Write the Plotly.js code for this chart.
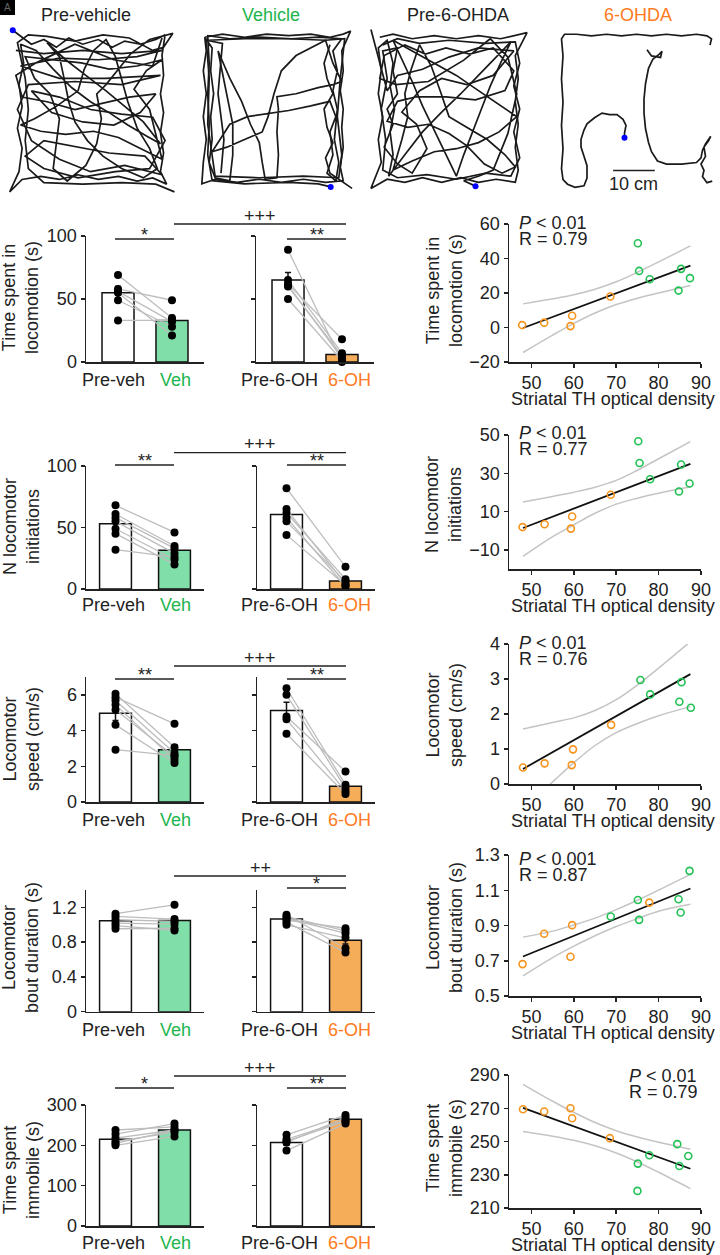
<!DOCTYPE html>
<html><head><meta charset="utf-8">
<script src="https://cdn.plot.ly/plotly-3.0.1.min.js"></script>
<style>html,body{margin:0;padding:0;background:#fff}</style>
</head><body><div id="chart" style="width:720px;height:1255px"></div>
<script>
// ---------------- DATA ----------------
// Trajectory paths (arena coordinates 0-100, y up); null = gap
const preVehiclePath = [[0,101],[5,97],[12,92],[20,95],[28,90],[36,96],[45,92],[55,95],[64,90],[72,94],[82,92],[92,95],[98,98],[96,85],[97,72],[95,60],[97,48],[95,35],[97,22],[95,10],[99,2],[90,6],[80,4],[68,7],[55,5],[42,8],[30,5],[18,7],[6,5],[-2,-3],[4,10],[6,25],[3,38],[6,52],[4,66],[7,80],[5,92],[15,88],[26,76],[38,64],[50,55],[62,48],[74,40],[86,33],[95,28],[84,42],[72,52],[60,62],[47,72],[34,82],[22,93],[30,84],[33,70],[36,55],[40,42],[48,30],[58,20],[70,12],[84,6],[93,12],[88,25],[80,38],[74,55],[70,70],[66,84],[60,95],[52,88],[46,76],[42,62],[28,52],[14,44],[5,40],[18,36],[34,34],[52,36],[68,32],[82,25],[96,18],[88,50],[78,63],[86,75],[96,82],[80,78],[62,76],[44,80],[26,82],[8,84],[14,70],[24,60],[30,44],[28,28],[26,12],[35,4],[47,14],[54,28],[57,44],[54,60],[60,66],[76,86],[88,95],[103,99],[97,90],[90,88],[75,96],[58,98],[40,94],[22,97],[10,98],[3,93],[8,70],[10,50],[8,30],[10,12],[20,3],[45,2],[70,3],[92,2],[104,-3],null,
  [2,88],[20,86],[45,88],[70,86],[96,88],[80,84],[55,82],[30,83],[5,78],[30,70],[60,70],[95,72],[70,66],[40,68],[10,66],[3,50],[12,30],[30,18],[50,10],[72,14],[96,8],[85,20],[62,22],[40,26],[20,30],[8,20],[20,12],[42,6],[66,10],[88,12],[98,30],[90,45],[70,47],[50,50],[30,58],[12,62],[25,48],[45,42],[65,40],[82,48],[92,60],[75,58],[58,54],[40,50],[22,55],[6,58],[2,72],[15,80],[40,92],[65,82],[90,78],[96,96]];
const vehiclePath = [[3,97],[15,99],[30,97],[45,99],[60,98],[75,99],[88,97],[97,99],[102,101],[96,88],[97,75],[95,62],[97,50],[96,38],[97,25],[95,12],[97,3],[85,2],[70,4],[55,2],[40,4],[25,2],[10,4],[1,1],[2,15],[4,30],[2,45],[4,60],[2,75],[4,88],[3,97],[8,90],[7,75],[9,60],[7,45],[8,30],[6,15],[10,5],[20,3],[22,20],[22,40],[12,88],[20,70],[28,55],[34,40],[40,28],[42,15],[44,4],[52,5],[53,20],[52,35],[53,50],[52,58],[65,60],[80,64],[90,66],[96,68],[90,80],[85,95],[75,90],[65,85],[55,75],[50,60],[46,45],[42,35],[30,30],[18,25],[8,22],[20,40],[32,45],[45,47],[60,49],[75,52],[88,55],[92,45],[88,35],[90,20],[86,8],[92,3],[94,15],[91,30],[93,50],[90,62],[93,75],[90,88],[96,96],[80,97],[62,96],[40,97],[20,96],[5,98],[6,80],[5,60],[6,40],[5,20],[8,3],[30,1],[60,2],[80,1],[88.5,-1],null,
  [5,95],[30,96],[60,96],[85,95],[98,96],[95,70],[93,45],[96,20],[94,5],[70,6],[40,5],[10,6],[5,40],[6,70],[4,95],[15,93],[12,60],[16,30],[14,8],null,
  [88,92],[84,80],[86,70],[90,60],[84,50],[86,38],[90,28],[85,18],[88,8],[103,-2]];
const pre6ohdaPath = [[3,97],[12,99],[25,96],[40,98],[55,96],[70,98],[85,96],[103,100],[95,85],[97,70],[95,55],[97,40],[95,25],[97,10],[95,2],[82,4],[70,2],[58,5],[45,2],[32,5],[20,2],[8,4],[-3,-2],[4,15],[2,30],[5,45],[2,60],[4,75],[2,90],[8,95],[12,80],[10,65],[13,50],[10,35],[12,20],[9,6],[20,20],[32,35],[45,48],[58,60],[70,72],[82,84],[92,94],[85,80],[78,65],[72,50],[66,35],[60,20],[55,6],[48,20],[40,35],[32,52],[25,68],[18,82],[12,95],[25,88],[40,80],[55,72],[70,62],[85,52],[96,45],[84,35],[70,28],[55,24],[40,22],[25,16],[12,10],[18,30],[22,45],[20,60],[24,75],[30,92],[38,78],[44,62],[50,45],[62,38],[76,30],[88,20],[95,12],[86,8],[74,14],[62,26],[50,34],[36,40],[22,38],[8,42],[15,55],[28,58],[48,58],[68,56],[88,62],[94,75],[80,90],[64,86],[48,90],[34,86],[20,92],[6,85],[3,70],[14,66],[36,68],[60,82],[78,96],[90,84],[96,60],[90,34],[80,10],[70,6],[60,3],[68,-0.5],null,
  [5,92],[15,96],[30,93],[50,95],[75,93],[95,94],[98,80],[94,65],[98,50],[94,35],[98,18],[92,6],[75,8],[55,4],[35,7],[15,5],[5,10],[7,30],[4,50],[8,70],[5,88],[15,90],[12,75],[15,60],[8,50],[12,40],[6,25],[15,14],[25,8],[35,24],[28,40],[18,48],[30,62],[45,70],[62,66],[80,72],[94,88],[70,90],[50,84],[32,76],[15,72],[8,62],[-3,102]];
const ohdaPath = [[100.5,4],[97,3],[94,7],[95,11],[93,15],[96,20],[95,26],[98,30],[99.5,33],[96,28],[94,24],[93,19],[90,16],[80,15],[70,15],[64,17],[60,23],[58,29],[56,38],[55,48],[55,57],[56,67],[58,77],[61,83],[65,86],[67,88],[66,84],[60,85],[57,89],null,[99,92],[100,96],[97,98],[90,99],[80,98],[70,99],[60,98],[50,99],[40,98],[30,99],[20,98],[10,99],[2,99],[0,96],[1,85],[0,70],[1,55],[0,40],[1,25],[0,12],[1,5],[4,2],[9,0],[15,1],[17,6],[17,14],[15,20],[13,26],[13,31],[15,37],[17,41],[22,45],[27,48],[32,47],[37,47],[41,44],[43,40],[42,35],[42,32]];
const trajTitles = ['Pre-vehicle','Vehicle','Pre-6-OHDA','6-OHDA'];
const trajDots = [[0,101],[88.5,-1],[68,-0.5],[42,32]];

// Bar-chart categories
const barCategories = ['Pre-veh','Veh','Pre-6-OH','6-OH'];

// Row 1: time spent in locomotion (s)
const locoPreVeh = [69, 58, 56, 55, 49, 33];
const locoVeh    = [35, 49, 32, 21, 28, 33];
const locoPre6   = [89, 65, 62, 61, 60, 50];
const loco6      = [0, 7, 18, 3, 5, 1];
const locoMeans  = [55, 33, 65, 6];
const locoSem    = [5, 4, 6, 3];
// Row 2: N locomotor initiations
const initPreVeh = [68, 61, 58, 55, 49, 45, 32];
const initVeh    = [46, 35, 33, 29, 24, 20, 26];
const initPre6   = [82, 65, 62, 58, 55, 44];
const init6      = [18, 4, 8, 2, 6, 3];
const initMeans  = [53, 31.5, 60.5, 6.5];
const initSem    = [4.5, 3, 5, 2];
// Row 3: locomotor speed (cm/s)
const speedPreVeh = [6.06, 5.87, 5.68, 5.44, 5.16, 4.32, 2.93];
const speedVeh    = [3.07, 4.38, 2.74, 2.36, 2.55, 2.18, 2.6];
const speedPre6   = [6.37, 6.0, 4.79, 4.64, 3.82];
const speed6      = [0.97, 0.78, 1.71, 0.6, 0.45];
const speedMeans  = [4.97, 2.93, 5.12, 0.88];
const speedSem    = [0.4, 0.27, 0.47, 0.2];
// Row 4: locomotor bout duration (s)
const boutPreVeh = [1.127, 1.096, 1.058, 1.02, 0.99, 0.954];
const boutVeh    = [1.23, 1.065, 1.04, 1.008, 0.935, 0.96];
const boutPre6   = [1.115, 1.095, 1.075, 1.055, 1.03, 1.0];
const bout6      = [0.73, 0.93, 0.9, 0.96, 0.68, 0.85];
const boutMeans  = [1.046, 1.05, 1.065, 0.823];
const boutSem    = [0.025, 0.04, 0.02, 0.045];
// Row 5: time spent immobile (s)
const immPreVeh = [238, 228, 218, 210, 200, 205];
const immVeh    = [246, 254, 238, 232, 222, 238];
const immPre6   = [226, 215, 207, 187, 210];
const imm6      = [275, 262, 269, 254, 260];
const immMeans  = [215, 238, 207, 264.5];
const immSem    = [5, 4, 7, 4];

// Correlation scatter data (x = striatal TH optical density)
const ciX = [48, 55, 60, 65, 70, 75, 80, 87.5];
const fitX = [48, 87.5];
const locoOhX = [47.8, 53, 59.2, 59.6, 68.6], locoOhY = [1.4, 2.8, 0.8, 6.8, 18];
const locoVehX = [75.1, 75.4, 77.9, 85.3, 84.7, 87.4], locoVehY = [48.8, 32.8, 28, 34, 21.4, 28.6];
const locoFitY = [-0.3, 35.9];
const locoCiUp = [13.7, 16.6, 19.0, 22.2, 26.5, 32.0, 38.0, 47.3];
const locoCiLo = [-14.5, -4.4, 2.4, 8.4, 13.3, 17.0, 20.0, 24.3];
const initOhX = [47.9, 53.1, 59.6, 59.3, 68.7], initOhY = [1.9, 3.4, 7.4, 1.1, 18.8];
const initVehX = [75.2, 75.5, 78, 85.3, 84.8, 87.3], initVehY = [46.7, 35.4, 26.9, 34.6, 20.5, 24.7];
const initFitY = [1.4, 34.9];
const initCiUp = [15, 17.9, 20.1, 22.7, 26.3, 31.6, 37.6, 46.5];
const initCiLo = [-13.4, -3.1, 3.1, 9.1, 13.9, 17, 19.6, 23];
const speedOhX = [48, 53.1, 59.8, 59.5, 68.8], speedOhY = [0.47, 0.59, 0.99, 0.54, 1.69];
const speedVehX = [75.7, 78, 85.4, 84.9, 87.6], speedVehY = [2.97, 2.56, 2.91, 2.35, 2.18];
const speedFitY = [0.43, 3.14];
const speedCiUp = [1.57, 1.76, 1.89, 2.10, 2.41, 2.83, 3.31, 4.07];
const speedCiLo = [-0.71, 0.06, 0.61, 1.10, 1.47, 1.73, 1.95, 2.21];
const boutOhX = [47.9, 53, 59.6, 59.2, 77.8], boutOhY = [0.681, 0.853, 0.902, 0.723, 1.03];
const boutVehX = [75.1, 75.4, 68.7, 84.7, 85.2, 87.3], boutVehY = [1.045, 0.932, 0.951, 1.049, 0.974, 1.21];
const boutFitY = [0.724, 1.11];
const boutCiUp = [0.834, 0.868, 0.903, 0.942, 0.99, 1.043, 1.101, 1.19];
const boutCiLo = [0.614, 0.718, 0.783, 0.842, 0.894, 0.939, 0.981, 1.02];
const immOhX = [48, 53, 59.2, 59.6, 68.5], immOhY = [269.4, 268, 270, 264, 252];
const immVehX = [75.1, 75.0, 77.8, 84.4, 84.9, 87.0], immVehY = [236.7, 220.3, 241.7, 248.4, 235.3, 241.3];
const immFitY = [270.2, 233.6];
const immCiUp = [284.4, 274.2, 267.5, 261.4, 256.5, 252.7, 249.5, 245.4];
const immCiLo = [256, 253.2, 250.7, 247.4, 243.1, 237.7, 231.5, 221.7];

const rowTitles = ['Time spent in<br>locomotion (s)','N locomotor<br>initiations','Locomotor<br>speed (cm/s)','Locomotor<br>bout duration (s)','Time spent<br>immobile (s)'];
const statP = ['<i>P</i> < 0.01','<i>P</i> < 0.01','<i>P</i> < 0.01','<i>P</i> < 0.001','<i>P</i> < 0.01'];
const statR = ['R = 0.79','R = 0.77','R = 0.76','R = 0.87','R = 0.79'];
const sigLeft = ['*','**','**','','*'];
const sigBetween = ['+++','+++','+++','++','+++'];
const sigRight = ['**','**','**','*','**'];

// ---------------- STYLE / LAYOUT ----------------
const W = 720, H = 1255;
const FONT = 'Liberation Sans, Arial, Helvetica, sans-serif';
const TXT = '#222';
const GREEN_TXT = '#1db54c', ORANGE_TXT = '#ff7b22';
const GREEN_BAR = '#80dfa8', ORANGE_BAR = '#f6ad5a';
const GREEN_PT = '#22c255', ORANGE_PT = '#f7941e';
const fx = p => p / W, fy = p => 1 - p / H;

const layout = {width: W, height: H, margin: {l:0, r:0, t:0, b:0}, paper_bgcolor: '#fff', plot_bgcolor: 'rgba(0,0,0,0)',
  showlegend: false, font: {family: FONT, size: 18, color: TXT}, annotations: [], shapes: []};
const traces = [];
let axN = 0;
function addAxes(xPx, yPx, xopt, yopt) {
  axN++;
  const s = axN === 1 ? '' : String(axN);
  layout['xaxis' + s] = Object.assign({domain: [fx(xPx[0]), fx(xPx[1])], anchor: 'y' + s, fixedrange: true, showgrid: false, zeroline: false}, xopt);
  layout['yaxis' + s] = Object.assign({domain: [fy(yPx[1]), fy(yPx[0])], anchor: 'x' + s, fixedrange: true, showgrid: false, zeroline: false}, yopt);
  return {x: 'x' + s, y: 'y' + s};
}
function ann(text, xpx, ypx, opt) {
  layout.annotations.push(Object.assign({text, x: fx(xpx), y: fy(ypx), xref: 'paper', yref: 'paper', showarrow: false,
    xanchor: 'center', yanchor: 'middle', font: {family: FONT, size: 18, color: TXT}}, opt || {}));
}
function hline(x0, x1, y, color, width) {
  layout.shapes.push({type: 'line', xref: 'paper', yref: 'paper', x0: fx(x0), x1: fx(x1), y0: fy(y), y1: fy(y), line: {color: color || '#222', width: width || 1.3}});
}

// --- trajectories ---
const trajPaths = [preVehiclePath, vehiclePath, pre6ohdaPath, ohdaPath];
const trajBoxes = [[[5, 176], [24, 195]], [[193, 355], [25, 193]], [[368, 530], [25, 193]], [[554, 719], [25, 195]]];
const trajTitleX = [86, 271, 458, 638];
const trajTitleColor = [TXT, GREEN_TXT, TXT, ORANGE_TXT];
trajPaths.forEach((path, i) => {
  const invis = {visible: false, range: [-5, 105]};
  const a = addAxes(trajBoxes[i][0], trajBoxes[i][1], invis, Object.assign({}, invis));
  traces.push({type: 'scatter', mode: 'lines', xaxis: a.x, yaxis: a.y, x: path.map(p => p ? p[0] : null), y: path.map(p => p ? p[1] : null),
    line: {color: '#1a1a1a', width: 1.7}, cliponaxis: false, hoverinfo: 'skip'});
  traces.push({type: 'scatter', mode: 'markers', xaxis: a.x, yaxis: a.y, x: [trajDots[i][0]], y: [trajDots[i][1]],
    marker: {color: '#0000ff', size: 6}, cliponaxis: false, hoverinfo: 'skip'});
  ann(trajTitles[i], trajTitleX[i], 15, {font: {family: FONT, size: 18, color: trajTitleColor[i]}});
  if (i === 3) {
    layout.shapes.push({type: 'line', xref: a.x, yref: a.y, x0: 34.4, x1: 62.2, y0: 10.9, y1: 10.9, line: {color: '#222', width: 1.5}});
    ann('10 cm', 633, 184);
  }
});
// panel letter box
layout.shapes.push({type: 'rect', xref: 'paper', yref: 'paper', x0: fx(0), x1: fx(15), y0: fy(15), y1: fy(0), fillcolor: '#000', line: {width: 0}});
ann('A', 7.5, 8, {font: {family: FONT, size: 10, color: '#666'}});

// --- rows ---
const rowData = [
  {pv: locoPreVeh, v: locoVeh, p6: locoPre6, o6: loco6, means: locoMeans, sem: locoSem,
   ohX: locoOhX, ohY: locoOhY, vX: locoVehX, vY: locoVehY, fitY: locoFitY, up: locoCiUp, lo: locoCiLo},
  {pv: initPreVeh, v: initVeh, p6: initPre6, o6: init6, means: initMeans, sem: initSem,
   ohX: initOhX, ohY: initOhY, vX: initVehX, vY: initVehY, fitY: initFitY, up: initCiUp, lo: initCiLo},
  {pv: speedPreVeh, v: speedVeh, p6: speedPre6, o6: speed6, means: speedMeans, sem: speedSem,
   ohX: speedOhX, ohY: speedOhY, vX: speedVehX, vY: speedVehY, fitY: speedFitY, up: speedCiUp, lo: speedCiLo},
  {pv: boutPreVeh, v: boutVeh, p6: boutPre6, o6: bout6, means: boutMeans, sem: boutSem,
   ohX: boutOhX, ohY: boutOhY, vX: boutVehX, vY: boutVehY, fitY: boutFitY, up: boutCiUp, lo: boutCiLo},
  {pv: immPreVeh, v: immVeh, p6: immPre6, o6: imm6, means: immMeans, sem: immSem,
   ohX: immOhX, ohY: immOhY, vX: immVehX, vY: immVehY, fitY: immFitY, up: immCiUp, lo: immCiLo}
];
const rowStyle = [
  {bar: [236, 362], barRange: [0, 100], barTicks: [0, 50, 100], leftX: [86, 204], rightX: [256, 374], xr: [0.407, 2.593], bw: 0.593,
   sc: [224, 362], scRange: [-20, 60], scTicks: [-20, 0, 20, 40, 60], sigY: [239, 224, 239], barTitleY: 298, scTitleY: 291, pY: 223, statX: 517, labY: 380},
  {bar: [466, 589], barRange: [0, 100], barTicks: [0, 50, 100], leftX: [86, 204], rightX: [257, 375], xr: [0.5, 2.5], bw: 0.54,
   sc: [435, 569], scRange: [-20, 50], scTicks: [-10, 10, 30, 50], sigY: [465, 452.7, 465], barTitleY: 527, scTitleY: 505, pY: 433, statX: 517, labY: 605},
  {bar: [677, 802], barRange: [0, 7], barTicks: [0, 2, 4, 6], leftX: [86, 204], rightX: [257, 375], xr: [0.5, 2.5], bw: 0.54,
   sc: [644, 784], scRange: [0, 4], scTicks: [0, 1, 2, 3, 4], sigY: [679, 666, 679], barTitleY: 739, scTitleY: 715, pY: 643, statX: 517, labY: 820},
  {bar: [890, 1011.7], barRange: [0, 1.4], barTicks: [0, 0.4, 0.8, 1.2], leftX: [86, 204], rightX: [257, 375], xr: [0.5, 2.5], bw: 0.54,
   sc: [855, 996], scRange: [0.5, 1.3], scTicks: [0.5, 0.7, 0.9, 1.1, 1.3], sigY: [888, 876, 888], barTitleY: 948, scTitleY: 928, pY: 859, statX: 517, labY: 1030},
  {bar: [1105, 1226], barRange: [0, 300], barTicks: [0, 100, 200, 300], leftX: [86, 204], rightX: [257, 375], xr: [0.5, 2.5], bw: 0.54,
   sc: [1075, 1208], scRange: [210, 290], scTicks: [210, 230, 250, 270, 290], sigY: [1088, 1076, 1088], barTitleY: 1170, scTitleY: 1148, pY: 1076, statX: 627, labY: 1243}
];
const catLabelX = [113, 175, 279.5, 349.5];
const catLabelColor = [TXT, GREEN_TXT, TXT, ORANGE_TXT];

const axLine = {showline: true, linecolor: '#222', linewidth: 1.5};
function barPanel(a, means, sems, pre, post, fill2) {
  traces.push({type: 'bar', xaxis: a.x, yaxis: a.y, x: [1, 2], y: means, width: a.bw,
    marker: {color: ['#ffffff', fill2], line: {color: '#111', width: 1.5}},
    error_y: {type: 'data', array: sems, visible: true, color: '#111', thickness: 1.5, width: 3}, hoverinfo: 'skip'});
  const lx = [], ly = [];
  pre.forEach((v, i) => { lx.push(1, 2, null); ly.push(v, post[i], null); });
  traces.push({type: 'scatter', mode: 'lines', xaxis: a.x, yaxis: a.y, x: lx, y: ly, line: {color: '#bdbdbd', width: 1.3}, hoverinfo: 'skip'});
  traces.push({type: 'scatter', mode: 'markers', xaxis: a.x, yaxis: a.y,
    x: pre.map(() => 1).concat(post.map(() => 2)), y: pre.concat(post),
    marker: {color: '#000', size: 8}, cliponaxis: false, hoverinfo: 'skip'});
}

rowData.forEach((d, r) => {
  const s = rowStyle[r];
  const barY = {range: s.barRange, ...axLine, ticks: 'outside', ticklen: 4, tickwidth: 1.5, tickcolor: '#222',
    tickvals: s.barTicks, tickfont: {family: FONT, size: 18, color: TXT}};
  const barX = {range: s.xr, ...axLine, ticks: '', showticklabels: false};
  // left bar panel
  const aL = addAxes(s.leftX, s.bar, Object.assign({}, barX), barY);
  aL.bw = s.bw;
  barPanel(aL, d.means.slice(0, 2), d.sem.slice(0, 2), d.pv, d.v, GREEN_BAR);
  // right bar panel
  const aR = addAxes(s.rightX, s.bar, Object.assign({}, barX), Object.assign({}, barY, {showticklabels: false}));
  aR.bw = s.bw;
  barPanel(aR, d.means.slice(2, 4), d.sem.slice(2, 4), d.p6, d.o6, ORANGE_BAR);
  // category labels under the bars
  barCategories.forEach((c, k) => ann(c, catLabelX[k], s.labY, {font: {family: FONT, size: 18, color: catLabelColor[k]}}));
  // scatter panel
  const aS = addAxes([509, 701], s.sc,
    {range: [44.7, 90], ...axLine, ticks: 'outside', ticklen: 4, tickwidth: 1.5, tickcolor: '#222', tickvals: [50, 60, 70, 80, 90],
     tickangle: 0, tickfont: {family: FONT, size: 18, color: TXT}, ticklabelstandoff: 0},
    {range: s.scRange, ...axLine, ticks: 'outside', ticklen: 4, tickwidth: 1.5, tickcolor: '#222', tickvals: s.scTicks,
     tickfont: {family: FONT, size: 18, color: TXT}});
  traces.push({type: 'scatter', mode: 'lines', xaxis: aS.x, yaxis: aS.y, x: ciX, y: d.up, line: {color: '#c4c4c4', width: 1.5, shape: 'spline'}, hoverinfo: 'skip'});
  traces.push({type: 'scatter', mode: 'lines', xaxis: aS.x, yaxis: aS.y, x: ciX, y: d.lo, line: {color: '#c4c4c4', width: 1.5, shape: 'spline'}, hoverinfo: 'skip'});
  traces.push({type: 'scatter', mode: 'lines', xaxis: aS.x, yaxis: aS.y, x: fitX, y: d.fitY, line: {color: '#111', width: 1.8}, hoverinfo: 'skip'});
  traces.push({type: 'scatter', mode: 'markers', xaxis: aS.x, yaxis: aS.y, x: d.ohX, y: d.ohY,
    marker: {symbol: 'circle-open', color: ORANGE_PT, size: 7, line: {width: 1.6}}, cliponaxis: false, hoverinfo: 'skip'});
  traces.push({type: 'scatter', mode: 'markers', xaxis: aS.x, yaxis: aS.y, x: d.vX, y: d.vY,
    marker: {symbol: 'circle-open', color: GREEN_PT, size: 7, line: {width: 1.6}}, cliponaxis: false, hoverinfo: 'skip'});

  // titles
  ann(rowTitles[r], 21, s.barTitleY, {textangle: -90});
  ann(rowTitles[r], 444, s.scTitleY, {textangle: -90});
  ann('Striatal TH optical density', 613, s.sc[1] + 37);
  ann(statP[r], s.statX, s.pY, {xanchor: 'left'});
  ann(statR[r], s.statX, s.pY + 16, {xanchor: 'left'});

  // significance marks
  const [yL, yB, yR] = s.sigY;
  if (sigLeft[r]) { hline(115, 174, yL); ann(sigLeft[r], 144.5, yL + 8, {yanchor: 'bottom'}); }
  hline(174, 346, yB); ann(sigBetween[r], 260, yB + 3.5, {yanchor: 'bottom'});
  hline(287, 346, yR); ann(sigRight[r], 316.5, yR + 8, {yanchor: 'bottom'});
});

Plotly.newPlot('chart', traces, layout, {staticPlot: true, displayModeBar: false});
</script></body></html>
